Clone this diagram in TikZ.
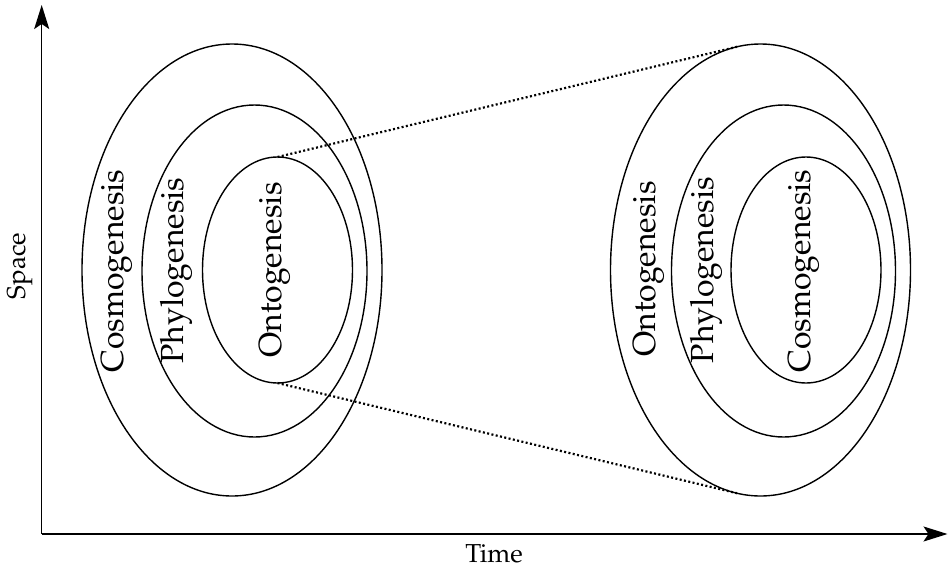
\documentclass[tikz,border=0pt]{standalone}
\usepackage[T1]{fontenc}
\usepackage{mathpazo}
\usetikzlibrary{shapes.geometric,arrows.meta}
\tikzset{
  ell/.style={draw, ellipse, inner sep=0pt, outer sep=0pt, line width=1.4pt},
  lab/.style={rotate=90, anchor=base, inner sep=0pt, font=\fontsize{32}{38}\selectfont},
  axlab/.style={anchor=base, inner sep=0pt, font=\fontsize{26}{31}\selectfont},
  axis/.style={line width=1.5pt, -{Stealth[length=24pt,width=15pt,inset=5pt]}},
  dots/.style={line width=2.2pt, dash pattern=on 2pt off 2.4pt}
}
\begin{document}
\begin{tikzpicture}[x=1pt,y=-1pt]
\useasboundingbox (0,0) rectangle (948,568);
% axes
\coordinate (O) at (41.7,534);
\coordinate (Ytip) at (41.7,5);
\coordinate (Xtip) at (947.5,534);
\draw[axis] (O) -- (Ytip);
\draw[axis] (O) -- (Xtip);
\node[axlab, rotate=90] (space) at (25,266) {Space};
\node[axlab] (time) at (494,562) {Time};
% left group
\node[ell, minimum width=300pt, minimum height=452pt] (oL) at (232,270) {};
\node[ell, minimum width=225pt, minimum height=332pt] (mL) at (254.5,271) {};
\node[ell, minimum width=150pt, minimum height=226pt] (iL) at (277.5,270) {};
\node[lab] (cL) at (123,271) {Cosmogenesis};
\node[lab] (pL) at (183,270.5) {Phylogenesis};
\node[lab] (nL) at (281,270) {Ontogenesis};
% right group
\node[ell, minimum width=300pt, minimum height=452pt] (oR) at (760.5,270) {};
\node[ell, minimum width=224pt, minimum height=332pt] (mR) at (783.5,271) {};
\node[ell, minimum width=150pt, minimum height=226pt] (iR) at (806,270) {};
\node[lab] (nR) at (655,269) {Ontogenesis};
\node[lab] (pR) at (713,270) {Phylogenesis};
\node[lab] (cR) at (810,271) {Cosmogenesis};
% dotted connectors
\draw[dots] (iL.north) -- (oR.96);
\draw[dots] (iL.south) -- (oR.-96);
\end{tikzpicture}
\end{document}
